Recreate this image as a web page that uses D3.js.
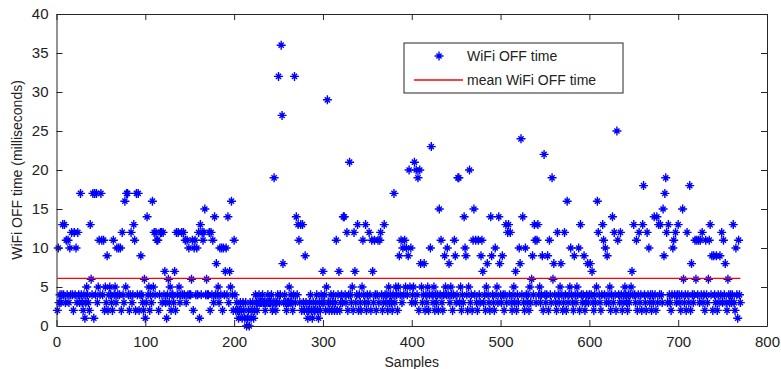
<!DOCTYPE html>
<html>
<head>
<meta charset="utf-8">
<script src="https://cdn.jsdelivr.net/npm/d3@7"></script>
<style>
  body { margin: 0; background: #fff; }
  svg { display: block; font-family: "Liberation Sans", Arial, sans-serif; }
</style>
</head>
<body>
<svg id="chart" width="781" height="369"></svg>
<script>

// WiFi OFF time per sample (ms), 10 samples per row
var offTimes = [
    2,10,3,4,3,4,13,4,13,3,
    11,4,11,3,10,4,12,4,2,12,
    4,10,3,12,4,3,17,4,3,2,
    4,1,3,5,4,3,2,13,6,4,
    17,1,17,4,17,3,5,11,4,17,
    11,4,11,2,5,3,9,2,4,5,
    4,3,2,11,4,5,3,10,4,10,
    4,10,2,12,4,3,16,5,17,17,
    4,2,4,12,3,4,13,11,2,17,
    4,17,2,4,9,4,3,2,6,1,
    3,14,4,5,2,4,3,16,5,12,
    4,12,11,11,2,4,12,12,3,12,
    4,7,3,1,4,6,3,5,2,4,
    4,3,7,2,12,4,12,5,3,4,
    12,4,12,4,11,3,11,4,10,4,
    4,6,11,2,10,11,4,10,4,12,
    1,13,4,12,11,12,15,4,6,4,
    4,12,2,12,4,11,3,14,4,8,
    4,5,3,10,4,10,2,10,4,7,
    10,4,14,3,7,5,16,4,2,11,
    4,2,3,2,1,2,3,2,1,3,
    2,1,3,0,1,2,0,3,1,2,
    3,1,2,4,3,2,3,4,3,3,
    3,4,3,3,2,3,3,4,3,3,
    3,4,2,3,19,3,2,3,4,32,
    3,4,36,27,8,3,4,3,2,3,
    3,5,3,4,3,2,4,32,3,14,
    4,13,11,3,13,2,13,3,2,9,
    3,2,1,2,3,4,2,1,3,2,
    2,3,4,2,1,3,2,4,3,7,
    3,4,2,5,29,3,2,3,4,2,
    3,4,2,3,11,2,4,7,2,3,
    4,3,14,14,4,3,12,2,4,21,
    4,3,5,2,12,7,3,4,13,2,
    4,3,2,5,11,4,3,13,2,4,
    3,12,4,2,11,7,3,11,4,2,
    4,11,3,11,12,4,2,3,13,4,
    3,4,2,5,3,4,3,2,4,17,
    3,5,4,2,5,9,4,11,3,10,
    4,11,5,10,4,9,20,5,10,3,
    4,5,21,3,20,4,19,2,20,8,
    5,3,4,8,2,4,3,5,2,4,
    10,23,4,3,5,2,4,3,4,2,
    15,4,11,3,2,4,9,5,4,10,
    4,8,3,5,4,2,4,11,9,3,
    4,19,19,3,5,2,4,3,14,10,
    9,4,2,5,20,3,4,2,11,15,
    4,11,3,2,11,4,3,9,11,7,
    3,4,2,5,8,4,3,2,14,9,
    4,3,2,10,4,5,3,14,8,4,
    3,9,4,2,4,13,3,12,13,4,
    12,3,2,4,5,3,7,2,4,3,
    10,8,24,4,14,3,2,10,4,3,
    4,2,5,3,6,9,4,13,11,3,
    11,13,4,5,3,4,9,2,22,4,
    3,4,9,2,11,4,3,19,6,8,
    4,3,2,12,4,3,5,8,4,2,
    3,12,4,2,16,3,4,5,10,4,
    3,2,9,4,3,5,4,10,2,13,
    4,3,4,9,2,3,4,8,3,4,
    8,4,7,3,2,4,3,5,16,12,
    4,3,2,4,13,11,4,10,3,9,
    4,3,5,2,4,14,3,12,4,2,
    25,11,4,3,12,4,2,3,4,5,
    4,3,2,4,3,4,5,7,4,13,
    4,3,11,2,4,12,3,4,2,13,
    18,4,3,2,12,4,10,3,4,2,
    4,3,14,4,2,14,3,13,4,13,
    4,3,15,9,17,19,12,3,13,4,
    3,2,4,10,11,4,12,3,4,13,
    4,3,2,4,15,6,3,4,2,12,
    4,3,18,2,8,4,3,4,11,6,
    11,4,11,3,11,4,12,3,4,2,
    11,4,3,6,11,13,4,9,2,9,
    4,3,9,2,4,3,9,4,12,3,
    11,4,8,3,2,6,4,3,4,3,
    4,13,3,2,10,4,1,11,4,3
];

var meanOffTime = 6.1;
var xTicks = [0, 100, 200, 300, 400, 500, 600, 700, 800];
var yTicks = [0, 5, 10, 15, 20, 25, 30, 35, 40];
var legendLabels = ['WiFi OFF time', 'mean WiFi OFF time'];

var plotLeft = 56.5,
    plotRight = 767,
    plotTop = 14,
    plotBottom = 326,
    tickLen = 6,
    markerColor = '#0000ff',
    meanColor = '#ff0000',
    axisColor = '#262626';

var svg = d3.select('#chart');

var x = d3.scaleLinear().domain([0, 800]).range([plotLeft, plotRight]);
var y = d3.scaleLinear().domain([0, 40]).range([plotBottom, plotTop]);

// asterisk marker like matlab '*'
var star = 'M-4.5,0H4.5M0,-4.5V4.5M-2.6,-2.6L2.6,2.6M-2.6,2.6L2.6,-2.6';

svg.append('g')
    .selectAll('path')
    .data(offTimes)
    .enter()
    .append('path')
    .attr('d', star)
    .attr('transform', function(d, i) {
        return 'translate(' + x(i + 1) + ',' + y(d) + ')';
    })
    .attr('fill', 'none')
    .attr('stroke', markerColor)
    .attr('stroke-width', 1.4);

svg.append('line')
    .attr('x1', x(1))
    .attr('x2', x(offTimes.length))
    .attr('y1', y(meanOffTime))
    .attr('y2', y(meanOffTime))
    .attr('stroke', meanColor)
    .attr('stroke-width', 1.3);

// axes: bottom/left with labels, top/right plain, all ticks inward
var xAxis = d3.axisBottom(x).tickValues(xTicks).tickSizeInner(-tickLen).tickSizeOuter(0).tickPadding(10);
var yAxis = d3.axisLeft(y).tickValues(yTicks).tickSizeInner(-tickLen).tickSizeOuter(0).tickPadding(8);
var xAxisTop = d3.axisTop(x).tickValues(xTicks).tickSizeInner(-tickLen).tickSizeOuter(0).tickFormat('');
var yAxisRight = d3.axisRight(y).tickValues(yTicks).tickSizeInner(-tickLen).tickSizeOuter(0).tickFormat('');

function styleAxis(g) {
    g.select('.domain').attr('stroke', axisColor);
    g.selectAll('.tick line').attr('stroke', axisColor);
    g.selectAll('.tick text')
        .attr('fill', '#222')
        .style('font-size', '15px')
        .style('font-family', '"Liberation Sans", Arial, sans-serif');
}

svg.append('g').attr('transform', 'translate(0,' + plotBottom + ')').call(xAxis).call(styleAxis);
svg.append('g').attr('transform', 'translate(' + plotLeft + ',0)').call(yAxis).call(styleAxis);
svg.append('g').attr('transform', 'translate(0,' + plotTop + ')').call(xAxisTop).call(styleAxis);
svg.append('g').attr('transform', 'translate(' + plotRight + ',0)').call(yAxisRight).call(styleAxis);

svg.append('text')
    .attr('x', (plotLeft + plotRight) / 2)
    .attr('y', 367)
    .attr('text-anchor', 'middle')
    .attr('fill', '#222')
    .style('font-size', '14px')
    .text('Samples');

svg.append('text')
    .attr('transform', 'translate(22,' + ((plotTop + plotBottom) / 2) + ') rotate(-90)')
    .attr('text-anchor', 'middle')
    .attr('fill', '#222')
    .style('font-size', '14px')
    .text('WiFi OFF time (milliseconds)');

// legend
var legend = svg.append('g').attr('transform', 'translate(404,43)');

legend.append('rect')
    .attr('width', 219)
    .attr('height', 50)
    .attr('fill', '#fff')
    .attr('stroke', axisColor);

legend.append('path')
    .attr('d', star)
    .attr('transform', 'translate(35,13)')
    .attr('fill', 'none')
    .attr('stroke', markerColor)
    .attr('stroke-width', 1.4);

legend.append('line')
    .attr('x1', 10)
    .attr('x2', 59)
    .attr('y1', 37)
    .attr('y2', 37)
    .attr('stroke', meanColor)
    .attr('stroke-width', 1.3);

legend.selectAll('text.label')
    .data(legendLabels)
    .enter()
    .append('text')
    .attr('class', 'label')
    .attr('x', 63)
    .attr('y', function(d, i) { return 18 + i * 24; })
    .attr('fill', '#222')
    .style('font-size', '14px')
    .text(function(d) { return d; });

</script>
</body>
</html>
